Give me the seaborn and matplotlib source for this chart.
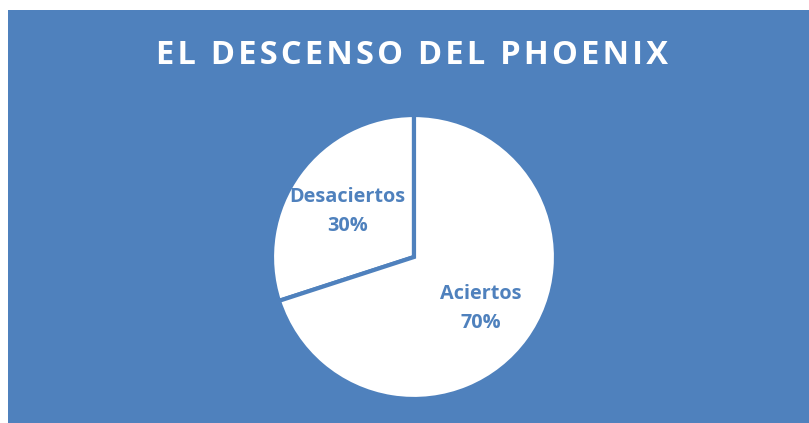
import matplotlib
matplotlib.use("Agg")
import matplotlib.pyplot as plt
import matplotlib.transforms as mtransforms
import seaborn as sns
from matplotlib.patches import Rectangle

categories = ["Desaciertos", "Aciertos"]
values = [30, 70]
title = "EL DESCENSO DEL PHOENIX"

sns.set_theme(style="white")
plt.rcParams['font.family'] = ['Open Sans', 'DejaVu Sans']

BLUE = "#4F81BD"
W, H = 809, 423
fig = plt.figure(figsize=(W / 100, H / 100), dpi=100)
fig.patch.set_facecolor("white")
fig.add_artist(Rectangle((8 / W, 0), 1 - 8 / W, (H - 10) / H, transform=fig.transFigure,
                         facecolor=BLUE, edgecolor="none", zorder=0))

cx, cy, r = 414, H - 257, 142
ax = fig.add_axes([(cx - r) / W, (cy - r) / H, 2 * r / W, 2 * r / H])
ax.set_facecolor("none")
labels = [f"{c}\n{v}%" for c, v in zip(categories, values)]
wedges, texts = ax.pie(values, labels=labels, startangle=90, counterclock=True,
                       colors=["white", "white"], labeldistance=0.58,
                       wedgeprops=dict(edgecolor=BLUE, linewidth=3),
                       textprops=dict(color=BLUE, fontsize=14.3, fontweight="bold"))
for t in texts:
    t.set_ha("center")
    t.set_va("center")
    t.set_linespacing(1.6)
    t.set_transform(mtransforms.offset_copy(ax.transData, fig=fig, x=0, y=-3, units="dots"))
ax.set_xlim(-1, 1)
ax.set_ylim(-1, 1)
ax.set_aspect("equal")
ax.axis("off")

spaced = "\u200a".join(title)
fig.text(412 / W, 1 - 55 / H, spaced, color="white", fontsize=23.5, fontweight="bold",
         ha="center", va="center", family=['Open Sans', 'DejaVu Sans'])

fig.savefig("out.png", dpi=100, facecolor=fig.get_facecolor())
